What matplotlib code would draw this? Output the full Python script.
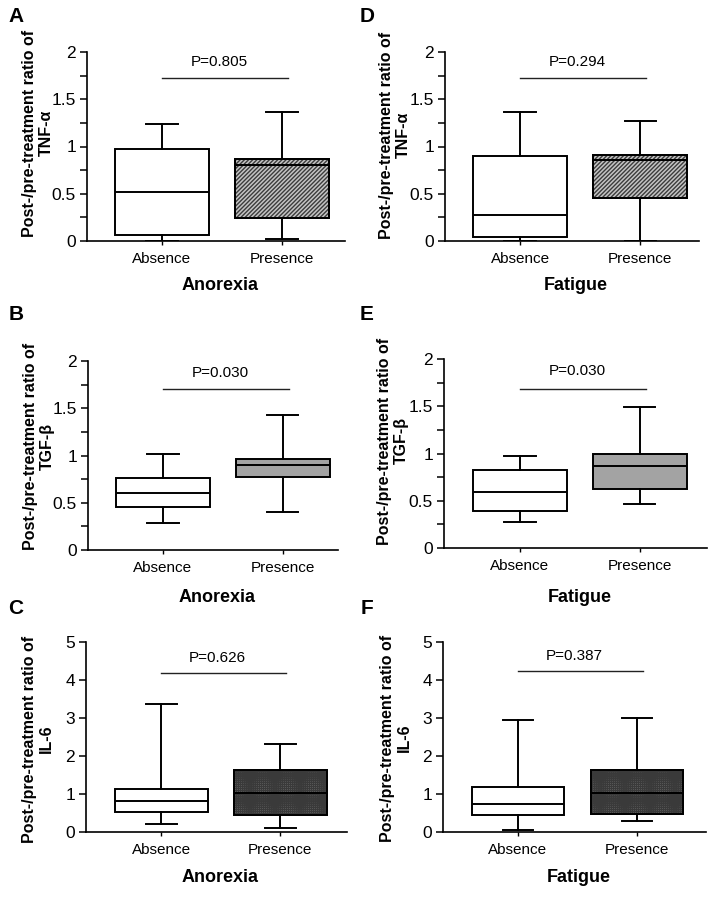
import matplotlib
matplotlib.use("Agg")
import matplotlib.pyplot as plt
import matplotlib.patches as mpatches
from matplotlib.ticker import MultipleLocator

plt.rcParams['font.family'] = ['Liberation Sans', 'DejaVu Sans']
plt.rcParams['hatch.linewidth'] = 1.0

W, H = 716, 899

groups = ["Absence", "Presence"]

# Box statistics: [whislo, q1, med, q3, whishi]
A_abs = [0.00, 0.06, 0.52, 0.97, 1.24]
A_pre = [0.02, 0.24, 0.80, 0.87, 1.36]
B_abs = [0.29, 0.45, 0.60, 0.76, 1.02]
B_pre = [0.40, 0.77, 0.90, 0.96, 1.43]
C_abs = [0.22, 0.53, 0.82, 1.12, 3.38]
C_pre = [0.11, 0.44, 1.03, 1.64, 2.31]
D_abs = [0.00, 0.04, 0.27, 0.90, 1.36]
D_pre = [0.00, 0.46, 0.86, 0.91, 1.27]
E_abs = [0.28, 0.39, 0.59, 0.83, 0.97]
E_pre = [0.47, 0.62, 0.87, 0.99, 1.49]
F_abs = [0.04, 0.44, 0.73, 1.18, 2.94]
F_pre = [0.30, 0.48, 1.03, 1.64, 3.00]

p_values = ["P=0.805", "P=0.030", "P=0.626", "P=0.294", "P=0.030", "P=0.387"]
cytokines = ["TNF-α", "TGF-β", "IL-6", "TNF-α", "TGF-β", "IL-6"]
symptoms = ["Anorexia", "Anorexia", "Anorexia", "Fatigue", "Fatigue", "Fatigue"]
letters = ["A", "B", "C", "D", "E", "F"]
data = [(A_abs, A_pre), (B_abs, B_pre), (C_abs, C_pre),
        (D_abs, D_pre), (E_abs, E_pre), (F_abs, F_pre)]

# layout (pixels): left, right, top, bottom of axes
boxes_px = [(87, 345, 52, 241), (88, 338, 361, 550), (86, 347, 642, 832),
            (445, 699, 52, 241), (444, 707, 359, 548), (443, 706, 642, 832)]
xlims = [(0.375, 2.525), (0.375, 2.46), (0.37, 2.56),
         (0.375, 2.49), (0.367, 2.56), (0.37, 2.58)]
ylims = [2, 2, 5, 2, 2, 5]
bar_y = [1.73, 1.70, 4.18, 1.73, 1.68, 4.23]
ptxt_y = [1.89, 1.87, 4.58, 1.89, 1.87, 4.62]
ylab_px = [(38, 133), (39, 446), (38, 739), (395, 135), (393, 441), (396, 738)]
xlab_y = [285, 598, 878, 285, 598, 878]
letter_px = [(16, 17), (16, 315), (16, 608), (367, 17), (367, 314), (367, 608)]

pres_style = [
    dict(facecolor='#c4c4c4', hatch='////////', edgecolor='#3c3c3c'),
    dict(facecolor='#a3a3a3', hatch=None, edgecolor='black'),
    dict(facecolor='#858585', hatch='++++++++', edgecolor='#3a3a3a'),
]

fig = plt.figure(figsize=(W / 100, H / 100), dpi=100)

for i in range(6):
    l, r, t, b = boxes_px[i]
    ax = fig.add_axes([l / W, 1 - b / H, (r - l) / W, (b - t) / H])
    stats = []
    for g, vals in zip(groups, data[i]):
        stats.append(dict(label=g, whislo=vals[0], q1=vals[1], med=vals[2],
                          q3=vals[3], whishi=vals[4], fliers=[]))
    res = ax.bxp(stats, positions=[1, 2], widths=0.78, capwidths=0.26,
                 patch_artist=True, showfliers=False,
                 boxprops=dict(linewidth=1.4, edgecolor='black'),
                 whiskerprops=dict(linewidth=1.4, color='black'),
                 capprops=dict(linewidth=1.4, color='black'),
                 medianprops=dict(linewidth=1.4, color='black'))
    res['boxes'][0].set_facecolor('white')
    st = pres_style[i % 3]
    bx = res['boxes'][1]
    bx.set_facecolor(st['facecolor'])
    if st['hatch']:
        bx.set_hatch(st['hatch'])
        bx.set_edgecolor(st['edgecolor'])
        # redraw black outline on top
        q1, q3 = data[i][1][1], data[i][1][3]
        ax.add_patch(mpatches.Rectangle((2 - 0.39, q1), 0.78, q3 - q1, fill=False,
                                        edgecolor='black', linewidth=1.4, zorder=3))
        ax.plot([2 - 0.39, 2 + 0.39], [data[i][1][2]] * 2, color='black', lw=1.4, zorder=3)

    ax.set_xlim(*xlims[i])
    ax.set_ylim(0, ylims[i])
    for s in ['top', 'right']:
        ax.spines[s].set_visible(False)
    ax.spines['left'].set_linewidth(1.2)
    ax.spines['bottom'].set_linewidth(1.2)
    if ylims[i] == 2:
        ax.yaxis.set_minor_locator(MultipleLocator(0.25))
        ax.set_yticks([0, 0.5, 1, 1.5, 2])
        ax.set_yticklabels(['0', '0.5', '1', '1.5', '2'])
    else:
        ax.set_yticks([0, 1, 2, 3, 4, 5])
        ax.set_yticklabels(['0', '1', '2', '3', '4', '5'])
    ax.tick_params(axis='y', which='major', length=5, width=1.1, labelsize=12.5, pad=3)
    ax.tick_params(axis='y', which='minor', length=5, width=1.1)
    ax.tick_params(axis='x', length=3, width=1.0, labelsize=11, pad=5)
    ax.set_xticks([1, 2])
    ax.set_xticklabels(groups)

    ax.plot([1, 2.05], [bar_y[i], bar_y[i]], color='#222222', lw=1.0, clip_on=False)
    ax.text(1.475, ptxt_y[i], p_values[i], ha='center', va='center', fontsize=11)

    x, y = ylab_px[i]
    fig.text(x / W, 1 - y / H, "Post-/pre-treatment ratio of\n" + cytokines[i],
             rotation=90, ha='center', va='center', fontsize=11.5,
             fontweight='bold', linespacing=1.15)
    fig.text(((l + r) / 2 + 4) / W, 1 - xlab_y[i] / H, symptoms[i], ha='center',
             va='center', fontsize=13, fontweight='bold')
    lx, ly = letter_px[i]
    fig.text(lx / W, 1 - ly / H, letters[i], ha='center', va='center',
             fontsize=15, fontweight='bold')

fig.savefig("out.png", dpi=100)
